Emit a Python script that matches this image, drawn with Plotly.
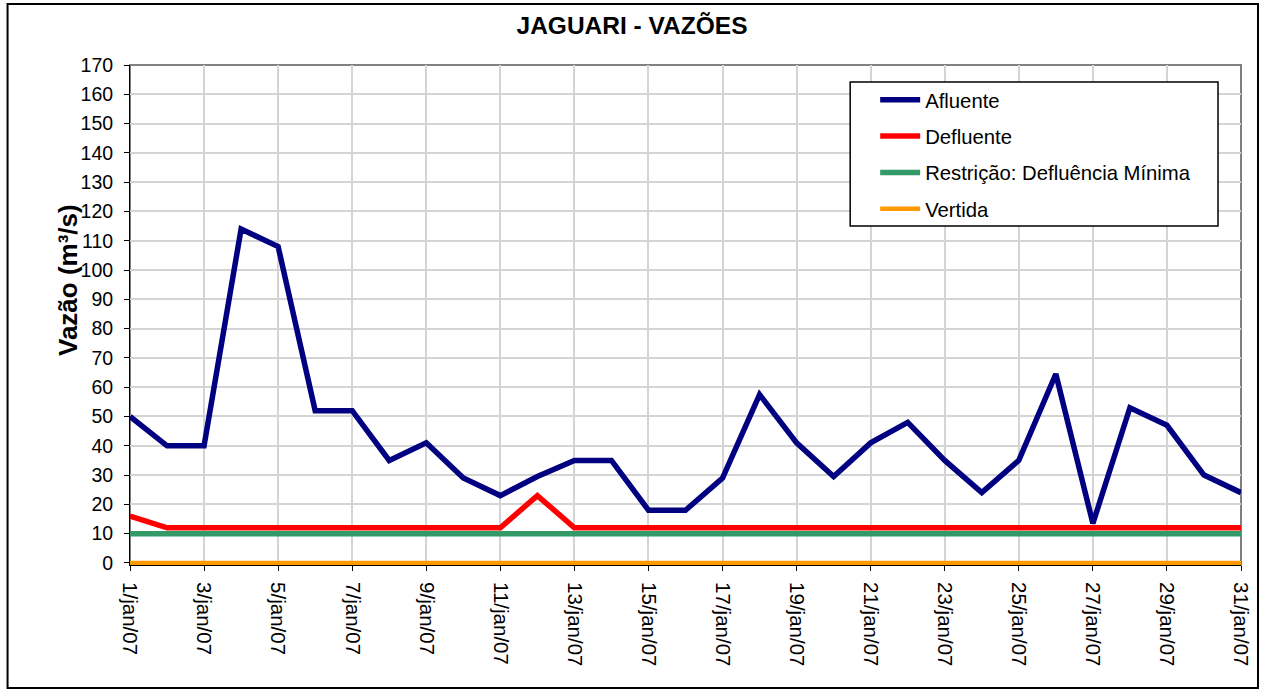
import plotly.graph_objects as go

dias = ["1/jan/07", "2/jan/07", "3/jan/07", "4/jan/07", "5/jan/07", "6/jan/07", "7/jan/07",
        "8/jan/07", "9/jan/07", "10/jan/07", "11/jan/07", "12/jan/07", "13/jan/07", "14/jan/07",
        "15/jan/07", "16/jan/07", "17/jan/07", "18/jan/07", "19/jan/07", "20/jan/07", "21/jan/07",
        "22/jan/07", "23/jan/07", "24/jan/07", "25/jan/07", "26/jan/07", "27/jan/07", "28/jan/07",
        "29/jan/07", "30/jan/07", "31/jan/07"]

afluente = [50, 40, 40, 114, 108, 52, 52, 35, 41, 29, 23, 29.5, 35, 35, 18, 18, 29, 57.5,
            41, 29.5, 41, 48, 35, 24, 35, 64.5, 13.5, 53, 47, 30, 24]
defluente = [16, 12, 12, 12, 12, 12, 12, 12, 12, 12, 12, 23, 12, 12, 12, 12, 12, 12,
             12, 12, 12, 12, 12, 12, 12, 12, 12, 12, 12, 12, 12]
restricao = [10] * 31
vertida = [0] * 31

tick_labels = ["1/jan/07", "3/jan/07", "5/jan/07", "7/jan/07", "9/jan/07", "11/jan/07",
               "13/jan/07", "15/jan/07", "17/jan/07", "19/jan/07", "21/jan/07", "23/jan/07",
               "25/jan/07", "27/jan/07", "29/jan/07", "31/jan/07"]
y_ticks = list(range(0, 171, 10))

FONT = "Liberation Sans, Arial, sans-serif"

fig = go.Figure()
fig.add_trace(go.Scatter(x=dias, y=afluente, mode="lines", name="Afluente", legendgroup="a",
                         line=dict(color="#000080", width=5.5)))
fig.add_trace(go.Scatter(x=dias, y=defluente, mode="lines", name="Defluente", legendgroup="b",
                         line=dict(color="#FF0000", width=5.5)))
fig.add_trace(go.Scatter(x=dias, y=restricao, mode="lines", name="Restrição: Defluência Mínima",
                         legendgroup="c", line=dict(color="#339966", width=5.5)))
fig.add_trace(go.Scatter(x=dias, y=vertida, mode="lines", name="Vertida", legendgroup="d",
                         line=dict(color="#FF9900", width=4.5)))

L, R, T, B = 129.5, 1241, 65, 565
W, H = 1264, 693
YMIN, YMAX = -0.7, 170
pw = R - L
ph = B - T

def px2paper_x(px):
    return (px - L) / pw

def px2paper_y(py):
    return (B - py) / ph

fig.update_layout(
    width=W, height=H,
    margin=dict(l=L, r=W - R, t=T, b=H - B, pad=0),
    paper_bgcolor="white", plot_bgcolor="white",
    font=dict(family=FONT, color="black", size=19.5),
    title=dict(text="<b>JAGUARI - VAZÕES</b>", x=632 / W,
               xanchor="center", y=1 - 25 / H, yanchor="middle",
               font=dict(size=24.5, family=FONT)),
    showlegend=True,
    legend=dict(x=px2paper_x(875), y=px2paper_y(80), xanchor="left", yanchor="top",
                bgcolor="rgba(0,0,0,0)", borderwidth=0, itemwidth=40,
                traceorder="grouped", font=dict(size=20.3, family=FONT),
                tracegroupgap=7),
    xaxis=dict(type="category", range=[0, 30], tickmode="array", tickvals=tick_labels,
               ticktext=tick_labels, tickangle=90, showgrid=True, gridcolor="#d4d4d4",
               gridwidth=2, showline=True, linecolor="black", linewidth=1,
               ticks="outside", ticklen=5, tickcolor="black", zeroline=False,
               ticklabelstandoff=7, tickfont=dict(size=20.5, family=FONT)),
    yaxis=dict(range=[YMIN, YMAX], tickmode="array", tickvals=y_ticks, showgrid=True,
               gridcolor="#d4d4d4", gridwidth=2, showline=True, linecolor="black",
               linewidth=1, ticks="outside", ticklen=5, tickcolor="black", zeroline=False,
               ticklabelstandoff=7, tickfont=dict(size=19.5, family=FONT)),
)

# Legend box
fig.add_shape(type="rect", xref="paper", yref="paper",
              x0=px2paper_x(850), y0=px2paper_y(226), x1=px2paper_x(1218), y1=px2paper_y(82),
              line=dict(color="black", width=1.5), fillcolor="white", layer="above")

# Y-axis title as annotation
fig.add_annotation(text="<b>Vazão (m³/s)</b>", textangle=-90, xref="paper", yref="paper",
                   x=px2paper_x(67.5), y=px2paper_y(280), xanchor="center", yanchor="middle",
                   showarrow=False, font=dict(size=26, family=FONT, color="black"))

# Plot-area border
fig.add_shape(type="rect", xref="paper", yref="paper", x0=0, y0=0, x1=1, y1=1,
              line=dict(color="#808080", width=2), layer="below")
# Outer chart border
fig.add_shape(type="rect", xref="paper", yref="paper",
              x0=px2paper_x(7), y0=px2paper_y(688), x1=px2paper_x(1258), y1=px2paper_y(4),
              line=dict(color="black", width=2))

fig.write_html("out.html", config={"displayModeBar": False})

with open("out.html", "r", encoding="utf-8") as f:
    html = f.read()
html = html.replace("<body>", '<body style="margin:0;padding:0;overflow:hidden">', 1)
with open("out.html", "w", encoding="utf-8") as f:
    f.write(html)
